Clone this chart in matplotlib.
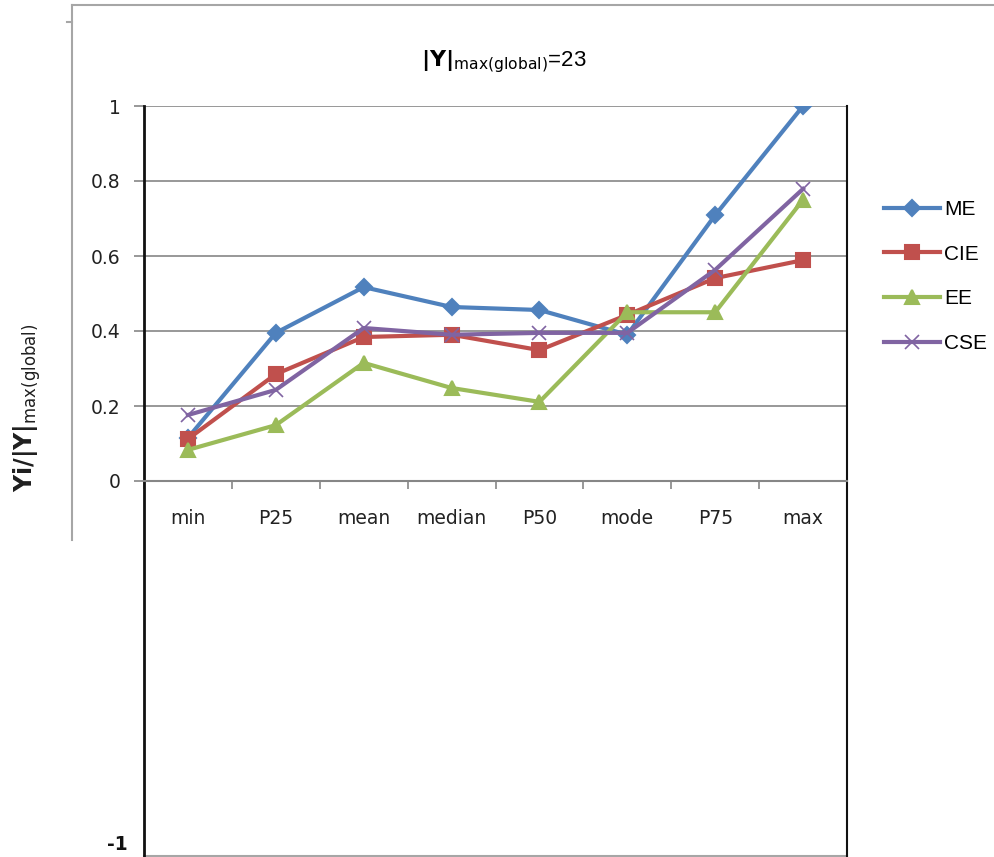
import numpy as np
import matplotlib
matplotlib.use("Agg")
import matplotlib.pyplot as plt
from matplotlib.lines import Line2D

# normalised statistics Yi/|Y|max(global) per estimator
categories = ["min", "P25", "mean", "median", "P50", "mode", "P75", "max"]
me = [0.115, 0.395, 0.517, 0.464, 0.456, 0.39, 0.709, 1.0]
cie = [0.112, 0.285, 0.384, 0.39, 0.349, 0.443, 0.541, 0.589]
ee = [0.083, 0.149, 0.315, 0.248, 0.211, 0.45, 0.45, 0.75]
cse = [0.176, 0.243, 0.408, 0.39, 0.395, 0.395, 0.563, 0.779]
y_ticks = [0, 0.2, 0.4, 0.6, 0.8, 1]
y_tick_labels = ["0", "0.2", "0.4", "0.6", "0.8", "1"]

series = [
    ("ME", me, "#4F81BD", "D", 8),
    ("CIE", cie, "#C0504D", "s", 10),
    ("EE", ee, "#9BBB59", "^", 10),
    ("CSE", cse, "#8064A2", "x", 10),
]

plt.rcParams['font.family'] = ['DejaVu Sans']

fig = plt.figure(figsize=(9.95, 8.57), dpi=100)
ax = fig.add_axes([144 / 995, 1 / 857, (847 - 144) / 995, 750 / 857])

x = np.arange(len(categories))
for name, vals, col, mk, ms in series:
    ax.plot(x, vals, color=col, lw=3, marker=mk, ms=ms, mew=1.5 if mk != "x" else 1.2,
            mfc=col, mec=col, label=name, zorder=3)

ax.set_xlim(-0.5, len(categories) - 0.5)
ax.set_ylim(-1, 1)

# gridlines only over the positive half
for yv in y_ticks[1:]:
    ax.axhline(yv, color="#868686", lw=1.2, zorder=1)
ax.axhline(-1, color="#A6A6A6", lw=1.5, clip_on=False, zorder=1)

ax.set_yticks(y_ticks)
ax.set_yticklabels(y_tick_labels, fontsize=13.5, color="#222222")
ax.tick_params(axis="y", length=7, width=1.2, color="#868686", pad=10)

# category axis sits on y = 0
ax.spines["bottom"].set_position(("data", 0))
ax.spines["bottom"].set_color("#868686")
ax.spines["bottom"].set_linewidth(1.5)
ax.spines["top"].set_visible(False)
ax.spines["left"].set_color("#111111")
ax.spines["left"].set_linewidth(2)
ax.spines["right"].set_color("#111111")
ax.spines["right"].set_linewidth(1.5)

ax.set_xticks(x)
ax.set_xticklabels(categories, fontsize=13.5, color="#222222")
ax.set_xticks(np.arange(len(categories) + 1) - 0.5, minor=True)
ax.tick_params(axis="x", which="major", length=0, pad=20)
ax.tick_params(axis="x", which="minor", length=6, width=1.2, color="#868686", direction="out")

ax.text(-0.023, -0.97, "-1", transform=ax.get_yaxis_transform(), ha="right", va="center",
        fontsize=13.5, fontweight="bold", color="#111111")

fig.text(504 / 995, 1 - 62 / 857, r"$\mathbf{|Y|}_{\mathrm{max(global)}}$=23",
         ha="center", va="center", fontsize=16, family="Liberation Sans")
fig.text(27 / 995, 1 - 408 / 857, r"$\mathbf{Yi/|Y|}_{\mathrm{max(global)}}$",
         ha="center", va="center", rotation=90, fontsize=17, family="Liberation Sans",
         color="#1f1f1f")

leg = fig.legend(loc="upper left", bbox_to_anchor=(884 / 995, 1 - 200 / 857), frameon=False,
                 handlelength=2.7, labelspacing=1.23, handletextpad=0.2,
                 borderpad=0, borderaxespad=0,
                 prop={"family": "Liberation Sans", "size": 15})

# outer chart frame
frame_col = "#A6A6A6"
fig.add_artist(Line2D([72 / 995, 72 / 995], [1 - 540 / 857, 1 - 5 / 857],
                      transform=fig.transFigure, color=frame_col, lw=1.5))
fig.add_artist(Line2D([72 / 995, 1.0], [1 - 5 / 857, 1 - 5 / 857],
                      transform=fig.transFigure, color=frame_col, lw=1.5))
fig.add_artist(Line2D([67 / 995, 72 / 995], [1 - 22 / 857, 1 - 22 / 857],
                      transform=fig.transFigure, color=frame_col, lw=1.5))

fig.savefig("out.png", dpi=100)
